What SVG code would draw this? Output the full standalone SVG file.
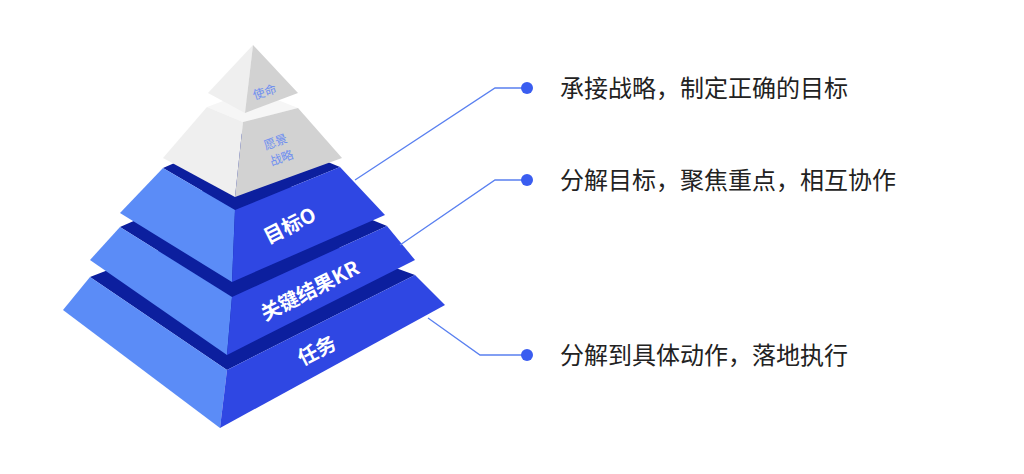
<svg xmlns="http://www.w3.org/2000/svg" width="1024" height="474" viewBox="0 0 1024 474">
<style>
.top{fill:#0c1f9e}.l{fill:#5b8cf7}.r{fill:#2f47e3}
.gl{fill:#efefef}.gr{fill:#d2d2d2}.gt{fill:#f6f6f6}
.lbl{font-family:"Noto Sans CJK SC",sans-serif;fill:#fff;font-weight:bold;text-anchor:middle}
.sl{font-family:"Noto Sans CJK SC",sans-serif;fill:#6f8ff0;text-anchor:middle;font-size:12px}
.cl{fill:none;stroke:#5a80f0;stroke-width:1.3}
.t{font-family:"Noto Sans CJK SC",sans-serif;font-size:24px;fill:#222}
</style>
<rect width="1024" height="474" fill="#fff"/>
<g id="tier5">
<polygon class="top" points="90,277 250,215 415,275 227,370"/>
<polygon class="l" points="90,277 227,370 220,428 63,310"/>
<polygon class="r" points="227,370 415,275 445,305 220,428"/>
<text class="lbl" font-size="20" transform="translate(320,357) rotate(-27)">任务</text>
</g>
<g id="tier4">
<polygon class="top" points="120,227 250,170 387,226 232,297"/>
<polygon class="l" points="120,227 232,297 227,355 90,260"/>
<polygon class="r" points="232,297 387,226 415,260 227,355"/>
<text class="lbl" font-size="20" transform="translate(313,297) rotate(-27)">关键结果KR</text>
</g>
<g id="tier3">
<polygon class="top" points="163,168 250,130 340,167 235,210"/>
<polygon class="l" points="163,168 235,210 232,282 120,213"/>
<polygon class="r" points="235,210 340,167 385,215 232,282"/>
<text class="lbl" font-size="20" transform="translate(293,232) rotate(-27)">目标O</text>
</g>
<g id="tier2">
<polygon class="gt" points="207,107 253,90 298,108 243,122"/>
<polygon class="gl" points="207,107 243,122 235,197 163,158"/>
<polygon class="gr" points="243,122 298,108 342,158 235,197"/>
<text class="sl" transform="translate(277,146) rotate(-20)">愿景</text>
<text class="sl" transform="translate(283,162) rotate(-20)">战略</text>
</g>
<g id="tier1">
<polygon class="gl" points="253,45 245,113 208,93"/>
<polygon class="gr" points="253,45 298,93 245,113"/>
<text class="sl" font-size="11" transform="translate(266,96) rotate(-18)">使命</text>
</g>
<g id="connectors">
<polyline class="cl" points="355,180 495,88 527,88"/>
<polyline class="cl" points="400,245 495,180 527,180"/>
<polyline class="cl" points="428,318 480,355 527,355"/>
<circle cx="527" cy="88" r="6" fill="#3a5df0"/>
<circle cx="527" cy="180" r="6" fill="#3a5df0"/>
<circle cx="527" cy="355" r="6" fill="#3a5df0"/>
</g>
<g id="texts">
<text class="t" x="560" y="97">承接战略，制定正确的目标</text>
<text class="t" x="560" y="189">分解目标，聚焦重点，相互协作</text>
<text class="t" x="560" y="364">分解到具体动作，落地执行</text>
</g>
</svg>
